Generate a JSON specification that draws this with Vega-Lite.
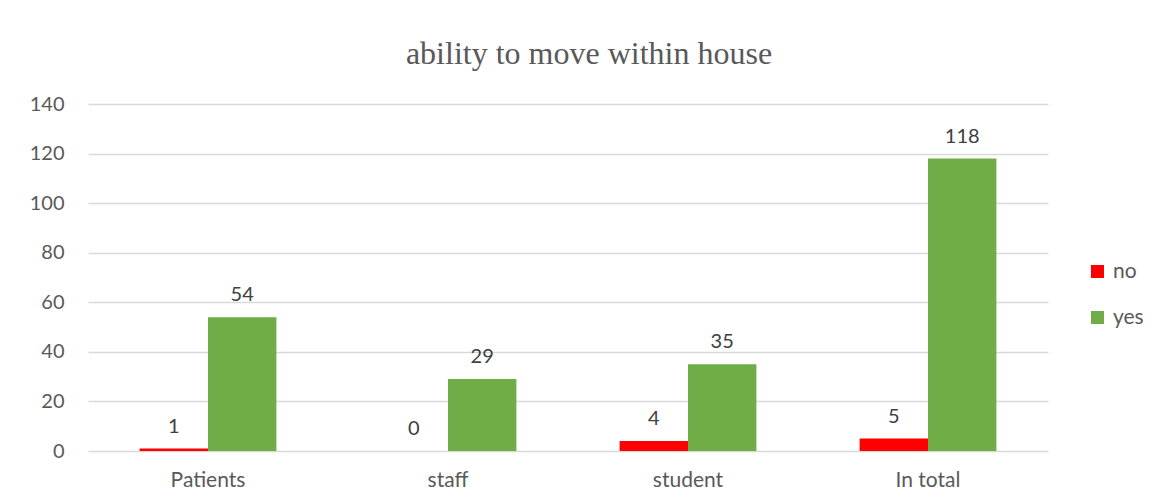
{
  "$schema": "https://vega.github.io/schema/vega-lite/v6.json",
  "width": 960,
  "height": 347,
  "autosize": {"type": "none"},
  "padding": {"left": 88, "top": 104, "right": 107, "bottom": 51},
  "background": "white",
  "title": {
    "text": "ability to move within house",
    "font": "Liberation Serif",
    "fontSize": 32,
    "fontWeight": "normal",
    "color": "#595959",
    "anchor": "middle",
    "frame": "group",
    "dx": 21,
    "offset": 23
  },
  "data": {
    "values": [
      {"group": "Patients", "answer": "no", "value": 1},
      {"group": "Patients", "answer": "yes", "value": 54},
      {"group": "staff", "answer": "no", "value": 0},
      {"group": "staff", "answer": "yes", "value": 29},
      {"group": "student", "answer": "no", "value": 4},
      {"group": "student", "answer": "yes", "value": 35},
      {"group": "In total", "answer": "no", "value": 5},
      {"group": "In total", "answer": "yes", "value": 118}
    ]
  },
  "encoding": {
    "x": {
      "field": "group",
      "type": "nominal",
      "sort": ["Patients", "staff", "student", "In total"],
      "scale": {"paddingInner": 0.43, "paddingOuter": 0.215},
      "axis": {
        "title": null,
        "labelAngle": 0,
        "labelFont": "Lato",
        "labelFontSize": 21,
        "labelColor": "#595959",
        "labelPadding": 18,
        "ticks": false,
        "domain": false
      }
    },
    "xOffset": {
      "field": "answer",
      "type": "nominal",
      "sort": ["no", "yes"],
      "scale": {"paddingInner": 0, "paddingOuter": 0}
    },
    "y": {
      "field": "value",
      "type": "quantitative",
      "scale": {"domain": [0, 140]},
      "axis": {
        "title": null,
        "values": [0, 20, 40, 60, 80, 100, 120, 140],
        "labelFont": "Lato",
        "labelFontSize": 20,
        "labelColor": "#595959",
        "labelPadding": 24,
        "ticks": false,
        "domain": false,
        "gridColor": "#D9D9D9",
        "gridWidth": 1.3
      }
    }
  },
  "layer": [
    {
      "mark": {"type": "bar"},
      "encoding": {
        "color": {
          "field": "answer",
          "type": "nominal",
          "sort": ["no", "yes"],
          "scale": {"domain": ["no", "yes"], "range": ["#FF0000", "#70AD47"]},
          "legend": {
            "title": null,
            "orient": "none",
            "legendX": 999,
            "legendY": 157,
            "symbolType": "square",
            "symbolSize": 170,
            "symbolStrokeWidth": 0,
            "labelFont": "Lato",
            "labelFontSize": 21,
            "labelColor": "#595959",
            "labelOffset": 5,
            "rowPadding": 24
          }
        }
      }
    },
    {
      "mark": {
        "type": "text",
        "baseline": "alphabetic",
        "dy": -16,
        "font": "Lato",
        "fontSize": 20,
        "color": "#404040"
      },
      "encoding": {
        "text": {"field": "value", "type": "quantitative"}
      }
    }
  ],
  "config": {
    "view": {"stroke": null}
  }
}
